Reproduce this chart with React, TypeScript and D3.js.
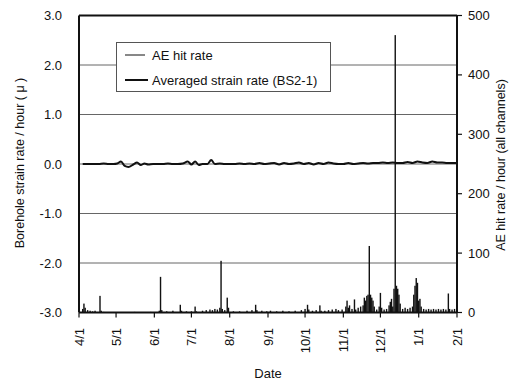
import React from "react";
import * as d3 from "d3";

const startDate = new Date(1996, 3, 1);
const endDate = new Date(1997, 1, 1);
const xTickLabels = ["4/1", "5/1", "6/1", "7/1", "8/1", "9/1", "10/1", "11/1", "12/1", "1/1", "2/1"];
const xTickDates = [
  new Date(1996, 3, 1), new Date(1996, 4, 1), new Date(1996, 5, 1), new Date(1996, 6, 1),
  new Date(1996, 7, 1), new Date(1996, 8, 1), new Date(1996, 9, 1), new Date(1996, 10, 1),
  new Date(1996, 11, 1), new Date(1997, 0, 1), new Date(1997, 1, 1),
];
const leftTicks = [3, 2, 1, 0, -1, -2, -3];
const rightTicks = [0, 100, 200, 300, 400, 500];
const gridValues = [2, 1, 0, -1, -2];

// Averaged strain rate (BS2-1): day offset from 4/1, value (micro-strain / hour)
const strainDays = [3, 8, 12, 16, 20, 24, 28, 31, 34, 37, 40, 44, 47, 50, 53, 56, 60, 64, 68, 72, 76, 80, 84, 88, 91, 94, 97, 100, 104, 107, 110, 114, 118, 122, 126, 130, 134, 138, 142, 146, 150, 154, 158, 162, 166, 170, 174, 178, 182, 186, 190, 194, 198, 202, 206, 210, 214, 218, 222, 226, 230, 234, 238, 242, 246, 250, 254, 258, 262, 266, 270, 274, 278, 282, 286, 290, 294, 298, 302, 306];
const strainValues = [0.0, 0.0, 0.0, 0.0, 0.01, 0.0, 0.0, 0.01, 0.05, -0.04, -0.06, -0.01, 0.03, -0.02, 0.01, -0.01, 0.0, 0.0, 0.0, 0.01, 0.0, 0.0, 0.01, 0.05, -0.01, 0.05, -0.02, 0.0, 0.0, 0.08, 0.0, 0.01, 0.0, 0.0, 0.0, 0.01, 0.0, 0.01, 0.0, 0.02, 0.0, 0.01, 0.02, -0.01, 0.02, 0.0, 0.01, 0.03, 0.0, 0.02, -0.01, 0.02, 0.0, 0.03, 0.01, 0.0, 0.0, 0.02, 0.0, 0.01, 0.02, 0.01, 0.02, 0.02, 0.03, 0.02, 0.03, 0.02, 0.02, 0.04, 0.02, 0.05, 0.03, 0.02, 0.05, 0.03, 0.03, 0.02, 0.02, 0.02];

// AE hit rate (all channels): day offset from 4/1, hits / hour
const aeDays = [3, 4, 5, 7, 9, 11, 13, 17, 18, 20, 45, 58, 65, 66, 67, 71, 76, 82, 83, 87, 91, 94, 95, 100, 103, 106, 108, 110, 112, 114, 115, 116, 118, 120, 121, 125, 130, 136, 140, 143, 144, 148, 152, 155, 160, 165, 170, 175, 180, 183, 185, 186, 189, 192, 195, 196, 199, 202, 205, 208, 210, 213, 216, 217, 218, 219, 221, 223, 224, 226, 228, 230, 231, 232, 233, 234, 235, 236, 237, 238, 239, 241, 243, 244, 245, 247, 249, 251, 252, 253, 254, 255, 256, 257, 258, 259, 260, 262, 264, 266, 268, 270, 271, 272, 273, 274, 275, 276, 277, 279, 281, 283, 285, 287, 289, 291, 293, 295, 297, 299, 300, 302, 304];
const aeRates = [6, 15, 8, 4, 3, 2, 3, 28, 3, 1, 1, 1, 3, 60, 4, 2, 3, 13, 3, 2, 2, 10, 2, 3, 4, 5, 4, 6, 5, 8, 87, 6, 4, 25, 8, 2, 2, 3, 4, 13, 4, 3, 2, 3, 2, 3, 2, 3, 4, 6, 13, 5, 3, 4, 12, 3, 3, 4, 5, 6, 4, 5, 10, 20, 8, 12, 6, 22, 5, 8, 10, 12, 25, 20, 28, 30, 112, 30, 25, 20, 10, 5, 10, 33, 8, 5, 6, 12, 18, 23, 10, 40, 467, 45, 40, 30, 15, 6, 8, 6, 8, 10, 30, 45, 58, 50, 20, 23, 10, 6, 5, 6, 5, 6, 5, 6, 5, 6, 5, 32, 6, 5, 6];

const W = 517;
const H = 385;
const M = { left: 79, right: 457, top: 15.5, bottom: 312.5 };
const FONT = "'Liberation Sans', Arial, sans-serif";

function dayToDate(d: number) {
  return new Date(1996, 3, 1 + d);
}

export default function App() {
  const x = d3.scaleTime().domain([startDate, endDate]).range([M.left, M.right]);
  const yL = d3.scaleLinear().domain([-3, 3]).range([M.bottom, M.top]);
  const yR = d3.scaleLinear().domain([0, 500]).range([M.bottom, M.top]);

  const strainLine = d3
    .line<number>()
    .x((_, i) => x(dayToDate(strainDays[i])))
    .y((v) => yL(v))
    .curve(d3.curveMonotoneX);

  return (
    <svg width={W} height={H} style={{ position: "absolute", left: 0, top: 0, background: "#fff" }}>
      {/* grid */}
      {gridValues.map((v) => (
        <line key={"g" + v} x1={M.left} x2={M.right} y1={yL(v)} y2={yL(v)} stroke="#666" strokeWidth={1} />
      ))}
      {/* AE hit rate needles */}
      {aeDays.map((d, i) => (
        <rect
          key={"ae" + i}
          x={x(dayToDate(d)) - 0.7}
          width={1.4}
          y={yR(aeRates[i])}
          height={M.bottom - yR(aeRates[i])}
          fill="#111"
        />
      ))}
      {/* strain line */}
      <path d={strainLine(strainValues) || ""} fill="none" stroke="#111" strokeWidth={2} />
      {/* frame */}
      <line x1={M.left} x2={M.right} y1={M.top} y2={M.top} stroke="#111" strokeWidth={2} />
      <line x1={M.left} x2={M.right} y1={M.bottom} y2={M.bottom} stroke="#111" strokeWidth={2} />
      <line x1={M.left} x2={M.left} y1={M.top} y2={M.bottom} stroke="#111" strokeWidth={2} />
      <line x1={M.right} x2={M.right} y1={M.top} y2={M.bottom} stroke="#111" strokeWidth={2} />
      {/* left axis labels */}
      {leftTicks.map((v) => (
        <text key={"l" + v} x={62} y={yL(v)} dy="0.35em" textAnchor="end" fontFamily={FONT} fontSize={13} fill="#111">
          {v.toFixed(1)}
        </text>
      ))}
      {/* right axis ticks + labels */}
      {rightTicks.map((v) => (
        <g key={"r" + v}>
          <line x1={M.right} x2={M.right + 5} y1={yR(v)} y2={yR(v)} stroke="#111" strokeWidth={1.2} />
          <text x={468} y={yR(v)} dy="0.35em" textAnchor="start" fontFamily={FONT} fontSize={13} fill="#111">
            {v}
          </text>
        </g>
      ))}
      {/* x axis ticks + labels */}
      {xTickDates.map((d, i) => (
        <g key={"x" + i}>
          <line x1={x(d)} x2={x(d)} y1={M.bottom} y2={M.bottom + 5} stroke="#111" strokeWidth={1.2} />
          <text
            transform={`translate(${x(d)},${328}) rotate(-90)`}
            dy="0.35em"
            textAnchor="end"
            fontFamily={FONT}
            fontSize={13}
            fill="#111"
          >
            {xTickLabels[i]}
          </text>
        </g>
      ))}
      {/* axis titles */}
      <text x={268} y={378} textAnchor="middle" fontFamily={FONT} fontSize={13} fill="#111">
        Date
      </text>
      <text
        transform={`translate(${24},${163}) rotate(-90)`}
        textAnchor="middle"
        fontFamily={FONT}
        fontSize={12.5}
        fill="#111"
      >
        Borehole strain rate / hour ( μ )
      </text>
      <text
        transform={`translate(${505},${165}) rotate(-90)`}
        textAnchor="middle"
        fontFamily={FONT}
        fontSize={12.5}
        fill="#111"
      >
        AE hit rate / hour (all channels)
      </text>
      {/* legend */}
      <rect x={116.5} y={42.5} width={214} height={49} fill="#fff" stroke="#555" strokeWidth={1} />
      <line x1={125} x2={145} y1={55} y2={55} stroke="#111" strokeWidth={1} />
      <text x={152} y={55} dy="0.35em" fontFamily={FONT} fontSize={13} fill="#111">
        AE hit rate
      </text>
      <line x1={125} x2={148} y1={80} y2={80} stroke="#111" strokeWidth={2} />
      <text x={152} y={80} dy="0.35em" fontFamily={FONT} fontSize={13} fill="#111">
        Averaged strain rate (BS2-1)
      </text>
    </svg>
  );
}
